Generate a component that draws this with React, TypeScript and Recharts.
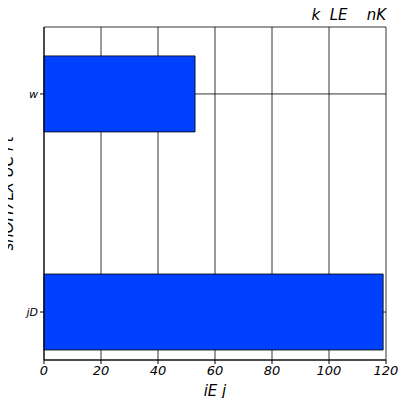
import { BarChart, Bar, XAxis, YAxis, CartesianGrid } from "recharts";

const categories = ["jD", "w"];
const values = [119, 53];
const xTicks = [0, 20, 40, 60, 80, 100, 120];

const data = categories.map((c, i) => ({ pos: i, name: c, value: values[i] }));
const font = "DejaVu Sans";

export default function App() {
  return (
    <div style={{ margin: -8, width: 406, height: 406, background: "#fff", position: "relative" }}>
      <BarChart
        width={406}
        height={406}
        data={data}
        layout="vertical"
        margin={{ top: 27, right: 20, bottom: 0, left: 0 }}
      >
        <CartesianGrid stroke="#000" strokeWidth={0.8} />
        <XAxis
          type="number"
          domain={[0, 120]}
          ticks={xTicks}
          stroke="#000"
          tickSize={4}
          tick={{ fontSize: 13, fill: "#000", fontFamily: font, fontStyle: "italic" }}
          label={{ value: "iE j", position: "insideBottom", offset: 10, fontSize: 15, fill: "#000", fontFamily: font, fontStyle: "italic" }}
          height={46}
        />
        <YAxis
          type="number"
          dataKey="pos"
          domain={[-0.22, 1.307]}
          reversed
          ticks={[0, 1]}
          tickFormatter={(v: number) => categories[v]}
          stroke="#000"
          tickSize={4}
          width={44}
          tick={{ fontSize: 11, fill: "#000", fontFamily: font, fontStyle: "italic" }}
          label={{ value: "snOH7LX  UC  Ft", angle: -90, position: "insideLeft", offset: 8, fontSize: 15, fill: "#000", fontFamily: font, fontStyle: "italic", style: { textAnchor: "middle" } }}
        />
        <Bar dataKey="value" fill="#0040ff" stroke="#000" strokeWidth={0.8} barSize={76} isAnimationActive={false} />
        <text x={386} y={20} textAnchor="end" fontSize={15} fontFamily={font} fontStyle="italic" fill="#000" style={{ whiteSpace: "pre" }}>
          k  LE    nK
        </text>
      </BarChart>
    </div>
  );
}
